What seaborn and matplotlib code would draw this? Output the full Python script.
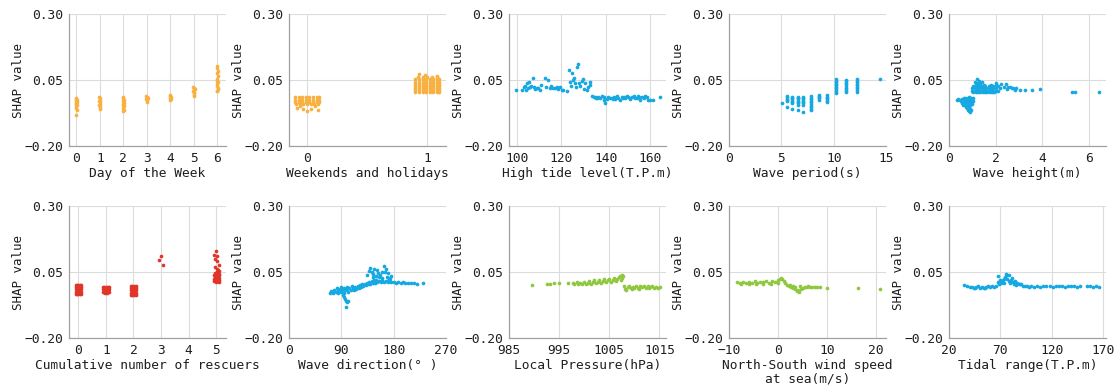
import matplotlib
matplotlib.use("Agg")
import matplotlib.pyplot as plt
import seaborn as sns
import pandas as pd

# ---------------- data (feature value, SHAP value) ----------------
weekday_pts = [
    (-0.03, -0.018), (0.0, -0.022), (0.03, -0.026), (-0.02, -0.030), (0.02, -0.034), (0.0, -0.038),
    (-0.03, -0.042), (0.03, -0.046), (0.0, -0.050), (-0.02, -0.055), (0.01, -0.062), (0.0, -0.083),
    (0.97, -0.016), (1.0, -0.020), (1.03, -0.026), (0.98, -0.030), (1.02, -0.034), (1.0, -0.040),
    (0.97, -0.045), (1.03, -0.050), (1.0, -0.055), (1.01, -0.058),
    (1.97, -0.016), (2.0, -0.020), (2.03, -0.025), (1.98, -0.030), (2.02, -0.036), (2.0, -0.040),
    (1.97, -0.045), (2.03, -0.050), (2.0, -0.056), (2.01, -0.062), (2.0, -0.068),
    (2.97, -0.010), (3.0, -0.014), (3.03, -0.018), (2.98, -0.022), (3.02, -0.027), (3.0, -0.032),
    (3.97, -0.006), (4.0, -0.010), (4.03, -0.014), (3.98, -0.018), (4.02, -0.022), (4.0, -0.026),
    (4.97, 0.025), (5.0, 0.020), (5.03, 0.015), (4.98, 0.010), (5.02, 0.005), (5.0, 0.0),
    (4.99, -0.005), (5.01, -0.010),
    (5.97, 0.103), (6.0, 0.095), (6.03, 0.085), (5.98, 0.075), (6.02, 0.065), (6.0, 0.055),
    (5.97, 0.048), (6.03, 0.042), (6.0, 0.035), (5.99, 0.028), (6.01, 0.020), (6.02, 0.015),
    (5.98, 0.010), (6.0, 0.008),
]

holiday_pts = [
    (-0.10, -0.015), (-0.07, -0.015), (-0.04, -0.015), (-0.01, -0.015), (0.02, -0.015), (0.05, -0.015), (0.08, -0.015), (0.10, -0.015),
    (-0.10, -0.024), (-0.07, -0.024), (-0.04, -0.024), (-0.01, -0.024), (0.02, -0.024), (0.05, -0.024), (0.08, -0.024), (0.10, -0.024),
    (-0.10, -0.033), (-0.07, -0.033), (-0.04, -0.033), (-0.01, -0.033), (0.02, -0.033), (0.05, -0.033), (0.08, -0.033), (0.10, -0.033),
    (-0.09, -0.042), (-0.06, -0.042), (-0.03, -0.042), (0.0, -0.042), (0.03, -0.042), (0.06, -0.042), (0.09, -0.042),
    (-0.08, -0.055), (-0.03, -0.060), (0.03, -0.058), (0.07, -0.050), (0.0, -0.068), (0.09, -0.062), (-0.06, -0.050),
    (0.92, 0.060), (0.96, 0.060), (1.00, 0.060), (1.04, 0.060), (1.08, 0.060),
    (0.90, 0.052), (0.93, 0.052), (0.96, 0.052), (0.99, 0.052), (1.02, 0.052), (1.05, 0.052), (1.08, 0.052), (1.10, 0.052),
    (0.90, 0.044), (0.93, 0.044), (0.96, 0.044), (0.99, 0.044), (1.02, 0.044), (1.05, 0.044), (1.08, 0.044), (1.10, 0.044),
    (0.90, 0.036), (0.93, 0.036), (0.96, 0.036), (0.99, 0.036), (1.02, 0.036), (1.05, 0.036), (1.08, 0.036), (1.10, 0.036),
    (0.90, 0.028), (0.93, 0.028), (0.96, 0.028), (0.99, 0.028), (1.02, 0.028), (1.05, 0.028), (1.08, 0.028), (1.10, 0.028),
    (0.90, 0.020), (0.93, 0.020), (0.96, 0.020), (0.99, 0.020), (1.02, 0.020), (1.05, 0.020), (1.08, 0.020), (1.10, 0.020),
    (0.90, 0.012), (0.93, 0.012), (0.96, 0.012), (0.99, 0.012), (1.02, 0.012), (1.05, 0.012), (1.08, 0.012), (1.10, 0.012),
    (0.90, 0.005), (0.93, 0.005), (0.96, 0.005), (0.99, 0.005), (1.02, 0.005), (1.05, 0.005), (1.08, 0.005), (1.10, 0.005),
    (0.93, 0.073), (1.08, 0.066), (0.98, 0.068),
]

high_tide_pts = [
    (99.5, 0.012), (102.4, 0.012), (103.0, 0.022), (103.5, 0.028), (103.9, 0.014), (104.5, 0.037), (105.0, 0.020),
    (105.4, 0.044), (105.7, 0.022), (106.5, 0.027), (107.2, 0.056), (107.5, 0.022), (108.3, 0.016), (109.0, 0.021),
    (109.6, 0.021), (110.3, 0.014), (111.0, 0.031), (112.5, 0.056), (113.0, 0.022), (114.0, 0.050), (114.8, 0.018),
    (115.5, 0.027), (116.3, 0.021), (117.0, 0.018), (117.8, 0.025), (118.5, 0.017), (119.3, 0.022), (120.1, 0.014),
    (120.8, 0.012), (122.3, 0.009), (123.4, 0.088), (123.8, 0.044), (124.3, 0.027), (124.7, 0.075), (125.3, 0.050),
    (125.8, 0.056), (126.1, 0.037), (126.5, 0.022), (127.1, 0.101), (127.4, 0.111), (128.0, 0.040), (128.3, 0.027),
    (129.1, 0.046), (129.5, 0.053), (130.2, 0.017), (130.6, 0.037), (131.4, 0.014), (132.1, 0.022), (132.6, 0.044),
    (132.9, 0.031),
    (133.6, -0.011), (134.4, -0.016), (135.1, -0.013), (135.9, -0.020), (136.6, -0.013), (137.4, -0.017),
    (138.1, -0.011), (138.9, -0.026), (139.6, -0.039), (140.4, -0.021), (141.1, -0.013), (141.9, -0.017),
    (142.6, -0.020), (143.4, -0.013), (144.1, -0.021), (144.9, -0.011), (145.6, -0.017), (146.4, -0.026),
    (147.1, -0.013), (147.9, -0.016), (148.6, -0.020), (149.4, -0.011), (150.1, -0.015), (150.9, -0.021),
    (151.6, -0.013), (152.4, -0.012), (153.1, -0.020), (153.9, -0.017), (154.6, -0.010), (155.4, -0.026),
    (156.1, -0.016), (156.9, -0.020), (157.6, -0.011), (158.4, -0.013), (159.1, -0.024), (160.0, -0.026),
    (161.1, -0.024), (164.2, -0.013),
    (135.5, -0.018), (139.0, -0.015), (143.0, -0.022), (147.5, -0.019), (151.0, -0.018), (155.0, -0.014),
]

wave_period_pts = [
    (5.08, -0.039),
    (5.56, -0.011), (5.56, -0.016), (5.56, -0.021), (5.56, -0.026), (5.56, -0.031), (5.56, -0.052),
    (6.04, -0.013), (6.04, -0.018), (6.04, -0.023), (6.04, -0.028), (6.04, -0.033), (6.04, -0.038), (6.04, -0.060),
    (6.55, -0.013), (6.55, -0.018), (6.55, -0.023), (6.55, -0.028), (6.55, -0.033), (6.55, -0.038), (6.55, -0.043), (6.55, -0.063),
    (7.05, -0.013), (7.05, -0.018), (7.05, -0.023), (7.05, -0.028), (7.05, -0.033), (7.05, -0.038), (7.05, -0.043), (7.05, -0.073),
    (7.85, -0.011), (7.85, -0.017), (7.85, -0.023), (7.85, -0.029), (7.85, -0.035), (7.85, -0.041), (7.85, -0.047),
    (7.85, -0.053), (7.85, -0.059), (7.85, -0.065),
    (8.58, -0.005), (8.58, -0.010), (8.58, -0.015), (8.58, -0.020), (8.58, -0.025),
    (9.37, -0.008), (9.37, -0.013), (9.37, -0.018), (9.37, -0.023), (9.37, -0.029), (9.37, -0.035),
    (10.23, 0.054), (10.23, 0.048), (10.23, 0.042), (10.23, 0.036), (10.23, 0.030), (10.23, 0.024),
    (10.23, 0.018), (10.23, 0.012), (10.23, 0.006), (10.23, 0.002),
    (11.19, 0.051), (11.19, 0.045), (11.19, 0.039), (11.19, 0.033), (11.19, 0.027), (11.19, 0.021),
    (11.19, 0.015), (11.19, 0.009), (11.19, 0.003),
    (12.2, 0.054), (12.2, 0.048), (12.2, 0.042), (12.2, 0.036), (12.2, 0.030), (12.2, 0.024),
    (12.2, 0.018), (12.2, 0.012), (12.2, 0.004),
    (14.46, 0.053),
]

wave_height_pts = [
    (0.34, -0.024), (0.40, -0.022), (0.46, -0.026), (0.50, -0.030), (0.55, -0.022), (0.60, -0.028), (0.65, -0.020),
    (0.70, -0.026), (0.75, -0.018), (0.80, -0.024), (0.85, -0.016), (0.90, -0.022), (0.95, -0.018), (1.00, -0.024),
    (1.05, -0.020),
    (0.58, -0.036), (0.64, -0.034), (0.70, -0.038), (0.76, -0.032), (0.82, -0.036), (0.88, -0.030), (0.94, -0.034),
    (1.00, -0.032), (1.05, -0.028),
    (0.62, -0.044), (0.68, -0.046), (0.74, -0.042), (0.80, -0.045), (0.86, -0.042), (0.92, -0.046), (0.98, -0.040),
    (0.72, -0.052), (0.78, -0.056), (0.84, -0.052), (0.90, -0.058), (0.80, -0.064), (0.88, -0.066), (0.92, -0.070),
    (0.96, -0.062),
    (1.05, 0.026), (1.15, 0.026), (1.25, 0.026), (1.35, 0.026), (1.45, 0.026), (1.55, 0.026),
    (1.0, 0.018), (1.1, 0.018), (1.2, 0.018), (1.3, 0.018), (1.4, 0.018), (1.5, 0.018), (1.6, 0.018), (1.7, 0.018),
    (1.8, 0.018), (1.9, 0.018), (2.0, 0.018),
    (1.0, 0.010), (1.1, 0.010), (1.2, 0.010), (1.3, 0.010), (1.4, 0.010), (1.5, 0.010), (1.6, 0.010), (1.7, 0.010),
    (1.8, 0.010), (1.9, 0.010), (2.0, 0.010), (2.1, 0.010),
    (1.05, 0.003), (1.15, 0.003), (1.25, 0.003), (1.35, 0.003), (1.45, 0.003), (1.55, 0.003), (1.65, 0.003),
    (1.75, 0.003), (1.85, 0.003), (1.95, 0.003),
    (1.20, 0.054), (1.28, 0.048), (1.24, 0.040), (1.12, 0.044), (1.35, 0.036), (1.18, 0.034), (1.40, 0.042), (1.50, 0.032),
    (2.04, 0.040), (2.1, 0.028), (2.2, 0.020), (2.25, 0.036), (2.35, 0.025), (2.47, 0.034), (2.5, 0.015), (2.55, 0.022),
    (2.61, 0.025), (2.7, 0.018), (2.75, 0.020), (2.85, 0.014), (2.9, 0.020), (3.04, 0.012), (3.26, 0.012), (3.57, 0.012),
    (3.90, 0.016), (5.27, 0.004), (5.41, 0.006), (6.44, 0.005), (1.9, 0.026), (1.8, 0.030), (2.0, 0.030), (1.7, 0.026),
]

rescuers_pts = [
    (-0.10, 0.0), (-0.05, 0.0), (0.0, 0.0), (0.05, 0.0), (0.10, 0.0),
    (-0.10, -0.008), (-0.05, -0.008), (0.0, -0.008), (0.05, -0.008), (0.10, -0.008),
    (-0.10, -0.016), (-0.05, -0.016), (0.0, -0.016), (0.05, -0.016), (0.10, -0.016),
    (-0.10, -0.024), (-0.05, -0.024), (0.0, -0.024), (0.05, -0.024), (0.10, -0.024),
    (-0.10, -0.032), (-0.05, -0.032), (0.0, -0.032), (0.05, -0.032), (0.10, -0.032),
    (0.88, -0.008), (0.94, -0.008), (1.0, -0.008), (1.06, -0.008), (1.12, -0.008),
    (0.88, -0.016), (0.94, -0.016), (1.0, -0.016), (1.06, -0.016), (1.12, -0.016),
    (0.88, -0.024), (0.94, -0.024), (1.0, -0.024), (1.06, -0.024), (1.12, -0.024),
    (0.95, -0.029), (1.05, -0.028),
    (1.90, -0.004), (1.96, -0.004), (2.02, -0.004), (2.08, -0.004),
    (1.90, -0.012), (1.96, -0.012), (2.02, -0.012), (2.08, -0.012),
    (1.90, -0.020), (1.96, -0.020), (2.02, -0.020), (2.08, -0.020),
    (1.90, -0.028), (1.96, -0.028), (2.02, -0.028), (2.08, -0.028),
    (1.90, -0.036), (1.96, -0.036), (2.02, -0.036), (2.08, -0.036),
    (2.91, 0.094), (2.99, 0.111), (3.06, 0.076),
    (5.00, 0.128), (4.94, 0.116), (5.05, 0.109), (4.97, 0.100), (5.03, 0.092), (5.09, 0.075), (4.97, 0.069),
    (5.05, 0.063), (4.95, 0.048), (5.0, 0.045), (5.05, 0.050), (5.1, 0.042), (4.93, 0.038), (4.98, 0.035),
    (5.03, 0.038), (5.08, 0.035), (5.12, 0.040), (4.95, 0.030), (5.0, 0.027), (5.05, 0.030), (5.1, 0.026),
    (4.92, 0.022), (4.97, 0.020), (5.02, 0.022), (5.07, 0.018), (5.12, 0.020), (4.98, 0.014), (5.04, 0.015),
    (5.1, 0.013), (4.94, 0.016), (5.06, 0.056), (5.12, 0.052),
]

wave_dir_pts = [
    (70, -0.028), (73, -0.022), (76, -0.030), (78, -0.018), (80, -0.025), (82, -0.012), (84, -0.020), (85, -0.030),
    (87, -0.015), (89, -0.024), (90, -0.008), (92, -0.018), (94, -0.028), (95, -0.012), (97, -0.020), (99, -0.006),
    (100, -0.016), (102, -0.024), (104, -0.010), (106, -0.018), (108, -0.004), (110, -0.012), (112, -0.020),
    (114, -0.006), (116, -0.014), (118, -0.002), (120, -0.010), (122, 0.0), (124, -0.006), (126, 0.003),
    (128, -0.003), (130, 0.006), (132, 0.0), (134, 0.009), (136, 0.003), (138, 0.012), (140, 0.006), (142, 0.015),
    (144, 0.008), (146, 0.018), (148, 0.010), (150, 0.020), (152, 0.012), (155, 0.017), (158, 0.011), (160, 0.019),
    (163, 0.013), (166, 0.017), (170, 0.012), (173, 0.016), (176, 0.011), (180, 0.014), (184, 0.010), (188, 0.013),
    (192, 0.009), (196, 0.011), (200, 0.008), (205, 0.010), (210, 0.007), (215, 0.009), (220, 0.006), (230, 0.008),
    (93, -0.038), (96, -0.051), (98, -0.058), (99, -0.064), (101, -0.060), (98, -0.083), (95, -0.044),
    (134, 0.040), (138, 0.055), (140, 0.066), (142, 0.050), (145, 0.044), (147, 0.060), (150, 0.035), (151, 0.056),
    (153, 0.045), (155, 0.030), (157, 0.038), (160, 0.050), (163, 0.073), (165, 0.051), (166, 0.062), (168, 0.031),
    (170, 0.045), (172, 0.025), (174, 0.029), (176, 0.035), (160, 0.028), (145, 0.030),
]

pressure_pts = [
    (989.5, 0.002), (992.6, 0.004), (993.1, 0.006), (993.9, 0.007), (995.0, 0.007), (996.8, 0.008),
    (997.8, 0.010), (998.0, 0.004), (998.5, 0.014), (998.8, 0.006), (999.2, 0.010), (999.6, 0.003), (1000.0, 0.012),
    (1000.3, 0.006), (1000.7, 0.010), (1001.0, 0.015), (1001.3, 0.005), (1001.7, 0.012), (1002.0, 0.018),
    (1002.3, 0.008), (1002.7, 0.014), (1003.0, 0.020), (1003.3, 0.010), (1003.7, 0.016), (1004.0, 0.022),
    (1004.3, 0.012), (1004.7, 0.018), (1005.0, 0.025), (1005.3, 0.014), (1005.7, 0.020), (1006.0, 0.028),
    (1006.3, 0.016), (1006.6, 0.022), (1007.0, 0.032), (1007.3, 0.018), (1007.6, 0.026), (1007.8, 0.036),
    (1007.5, 0.038), (1007.1, 0.034),
    (1008.0, -0.004), (1008.2, -0.014), (1008.4, -0.020), (1008.7, -0.008), (1009.0, -0.002), (1009.3, -0.012),
    (1009.7, -0.005), (1010.0, -0.010), (1010.4, -0.003), (1010.8, -0.009), (1011.2, -0.004), (1011.6, -0.008),
    (1012.0, -0.003), (1012.4, -0.009), (1012.8, -0.004), (1013.2, -0.008), (1013.6, -0.004), (1014.0, -0.009),
    (1014.4, -0.005), (1014.8, -0.010), (1015.1, -0.007), (1009.5, -0.016), (1011.0, -0.014), (1013.0, -0.012),
]

wind_pts = [
    (-8.4, 0.012), (-7.8, 0.010), (-7.2, 0.014), (-6.6, 0.008), (-6.0, 0.013), (-5.4, 0.010), (-4.8, 0.015),
    (-4.2, 0.009), (-3.6, 0.014), (-3.0, 0.011), (-2.4, 0.016), (-1.8, 0.010), (-1.2, 0.015), (-0.6, 0.012),
    (0.0, 0.018), (0.3, 0.024), (0.6, 0.028), (0.9, 0.022), (1.2, 0.016), (-7.5, 0.004), (-6.0, 0.005),
    (-4.5, 0.004), (-3.0, 0.005), (-1.5, 0.006), (0.0, 0.008), (1.5, 0.008), (1.8, 0.002), (2.2, -0.004),
    (2.6, -0.008), (3.0, -0.012), (3.4, -0.016), (3.8, -0.022), (4.2, -0.026), (4.0, -0.018), (4.6, -0.014),
    (5.0, -0.010), (5.4, -0.008), (5.8, -0.006), (6.2, -0.004), (6.6, -0.008), (7.0, -0.005), (7.5, -0.007),
    (8.0, -0.006), (8.6, -0.008), (3.0, -0.004), (3.5, -0.006), (4.5, -0.002), (2.5, 0.002),
    (10.0, -0.009), (16.2, -0.011), (20.8, -0.013),
]

tidal_range_pts = [
    (34.3, 0.0), (38, -0.004), (40, -0.008), (42, -0.005), (44, -0.010), (46, -0.006), (48, -0.003), (50, -0.009),
    (52, -0.005), (54, -0.011), (56, -0.006), (58, -0.003), (60, -0.008), (62, -0.004), (64, -0.007), (66, -0.002),
    (45, -0.012), (55, -0.012),
    (67.7, 0.034), (68, 0.012), (69, 0.004), (70, 0.018), (71, 0.008), (72, 0.014), (73, 0.020), (74, 0.010),
    (75, 0.030), (75.8, 0.044), (76.5, 0.038), (77, 0.024), (78, 0.015), (78.5, 0.040), (79, 0.008), (80, 0.020),
    (81, 0.028), (82, 0.012), (83, 0.005), (84, 0.016), (85, 0.002), (86, 0.010), (88, 0.006), (89, 0.003),
    (72, 0.012), (74, 0.022),
    (90, 0.004), (92, -0.002), (94, -0.004), (96, -0.002), (98, -0.006), (100, -0.003), (103, -0.005),
    (106, -0.002), (109, -0.006), (112, -0.003), (115, -0.004), (118, -0.002), (121, -0.005), (124, -0.003),
    (127, -0.004), (130, -0.002), (133, -0.005), (136, -0.003), (139, -0.004), (142, -0.002), (145, -0.005),
    (148, -0.003), (154, -0.004), (157, -0.003), (160, -0.005), (163, -0.004), (166, -0.006),
]

x_labels = [
    "Day of the Week", "Weekends and holidays", "High tide level(T.P.m)", "Wave period(s)", "Wave height(m)",
    "Cumulative number of rescuers", "Wave direction(° )", "Local Pressure(hPa)",
    "North-South wind speed\nat sea(m/s)", "Tidal range(T.P.m)",
]
x_ticks = [
    [0, 1, 2, 3, 4, 5, 6], [0, 1], [100, 120, 140, 160], [0, 5, 10, 15], [0, 2, 4, 6],
    [0, 1, 2, 3, 4, 5], [0, 90, 180, 270], [985, 995, 1005, 1015], [-10, 0, 10, 20], [20, 70, 120, 170],
]
y_ticks = [-0.20, 0.05, 0.30]
y_tick_labels = ["\u22120.20", "0.05", "0.30"]

# ---------------- style ----------------
ORANGE = "#F8B040"
BLUE = "#16A9E1"
RED = "#E0362A"
GREEN = "#8FC83E"

panels = [
    (weekday_pts, ORANGE, (-0.31, 6.37)),
    (holiday_pts, ORANGE, (-0.15, 1.155)),
    (high_tide_pts, BLUE, (96.4, 167.0)),
    (wave_period_pts, BLUE, (0, 15)),
    (wave_height_pts, BLUE, (0, 6.75)),
    (rescuers_pts, RED, (-0.34, 5.36)),
    (wave_dir_pts, BLUE, (0, 270)),
    (pressure_pts, GREEN, (985, 1016.3)),
    (wind_pts, GREEN, (-10, 22)),
    (tidal_range_pts, BLUE, (20, 173)),
]

sns.set_style("white")
plt.rcParams["font.family"] = ["DejaVu Sans Mono"]
plt.rcParams["font.size"] = 9.3

W, H = 1118, 387
fig = plt.figure(figsize=(W / 100, H / 100), dpi=100)

TXT = "#1e1e1e"
for i, (pts, col, xlim) in enumerate(panels):
    r, c = divmod(i, 5)
    left = (69 + 220 * c) / W
    bottom = 1 - (146 + 192 * r) / H
    ax = fig.add_axes([left, bottom, 157 / W, 132 / H])
    df = pd.DataFrame(pts, columns=["feature", "shap"])
    sns.scatterplot(data=df, x="feature", y="shap", color=col, s=7, linewidth=0,
                    ax=ax, legend=False, zorder=3)
    ax.set_xlim(*xlim)
    ax.set_ylim(-0.20, 0.30)
    ax.set_xticks(x_ticks[i])
    ax.set_yticks(y_ticks)
    ax.set_yticklabels(y_tick_labels)
    ax.grid(True, color="#dcdcdc", linewidth=0.8)
    ax.set_axisbelow(True)
    for s in ["top", "right"]:
        ax.spines[s].set_visible(False)
    for s in ["left", "bottom"]:
        ax.spines[s].set_color("#a0a0a0")
        ax.spines[s].set_linewidth(0.9)
    ax.tick_params(axis="y", length=3, width=0.8, color="#a0a0a0", pad=1, labelsize=9.3, labelcolor=TXT)
    ax.tick_params(axis="x", length=0, pad=4, labelsize=9.3, labelcolor=TXT)
    ax.set_ylabel("SHAP value", fontsize=9.0, labelpad=0, color=TXT)
    ax.set_xlabel(x_labels[i], fontsize=9.3, labelpad=2, color=TXT, linespacing=1.0)

fig.savefig("out.png", dpi=100)
